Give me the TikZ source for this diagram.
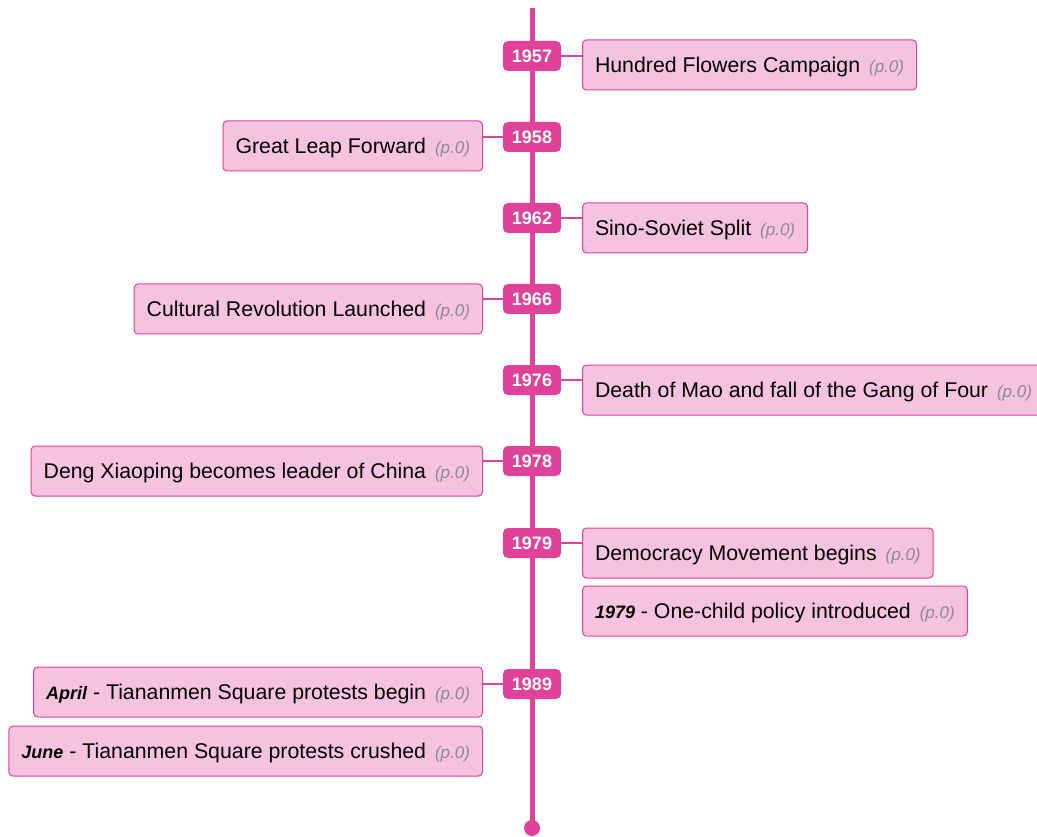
\documentclass[tikz,border=0pt]{standalone}
\usepackage{fontspec}
\setmainfont{Liberation Sans}
\definecolor{tlpink}{HTML}{E0429A}
\definecolor{boxfill}{HTML}{F5C3E0}
\definecolor{pgray}{HTML}{8C8C8C}
\newcommand{\pref}{\ \hspace{3pt}{\fontsize{17}{19}\selectfont\itshape\color{pgray}(p.0)}}
\newcommand{\lead}[1]{{\fontsize{18}{20}\selectfont\bfseries\itshape #1}}
\begin{document}
\begin{tikzpicture}[x=1pt,y=-1pt,
  yearbadge/.style={fill=tlpink, text=white, rounded corners=5pt, minimum width=58pt, minimum height=30pt, inner sep=0pt, font=\fontsize{18}{20}\selectfont\bfseries},
  eventbox/.style={draw=tlpink, line width=1pt, fill=boxfill, rounded corners=4pt, minimum height=50pt, inner xsep=12.5pt, inner ysep=0pt, text height=17pt, text depth=2pt, font=\fontsize{21.3}{24}\selectfont, text=black},
  conn/.style={tlpink, line width=1.5pt}]
\useasboundingbox (0,0) rectangle (1037,837);
\coordinate (top) at (532,8);
\coordinate (bot) at (532,828);
\draw[tlpink, line width=5pt] (top) -- (bot);
\fill[tlpink] (bot) circle (8pt);
% badges
\node[yearbadge] (b1957) at (532,56) {1957};
\node[yearbadge] (b1958) at (532,137) {1958};
\node[yearbadge] (b1962) at (532,218) {1962};
\node[yearbadge] (b1966) at (532,299) {1966};
\node[yearbadge] (b1976) at (532,380) {1976};
\node[yearbadge] (b1978) at (532,461) {1978};
\node[yearbadge] (b1979) at (532,543) {1979};
\node[yearbadge] (b1989) at (532,684) {1989};
% events
\node[eventbox, anchor=west] (e1957) at (582,65) {Hundred Flowers Campaign\pref};
\node[eventbox, anchor=east] (e1958) at (483,146) {Great Leap Forward\pref};
\node[eventbox, anchor=west] (e1962) at (582,228) {Sino-Soviet Split\pref};
\node[eventbox, anchor=east] (e1966) at (483,309) {Cultural Revolution Launched\pref};
\node[eventbox, anchor=west] (e1976) at (582,390) {Death of Mao and fall of the Gang of Four\pref};
\node[eventbox, anchor=east] (e1978) at (483,471) {Deng Xiaoping becomes leader of China\pref};
\node[eventbox, anchor=west] (e1979a) at (582,553) {Democracy Movement begins\pref};
\node[eventbox, anchor=west] (e1979b) at (582,611) {\lead{1979} - One-child policy introduced\pref};
\node[eventbox, anchor=east] (e1989a) at (483,692) {\lead{April} - Tiananmen Square protests begin\pref};
\node[eventbox, anchor=east] (e1989b) at (483,751) {\lead{June} - Tiananmen Square protests crushed\pref};
% connectors
\draw[conn] (b1957.east) -- (b1957.east -| e1957.west);
\draw[conn] (b1958.west) -- (b1958.west -| e1958.east);
\draw[conn] (b1962.east) -- (b1962.east -| e1962.west);
\draw[conn] (b1966.west) -- (b1966.west -| e1966.east);
\draw[conn] (b1976.east) -- (b1976.east -| e1976.west);
\draw[conn] (b1978.west) -- (b1978.west -| e1978.east);
\draw[conn] (b1979.east) -- (b1979.east -| e1979a.west);
\draw[conn] (b1989.west) -- (b1989.west -| e1989a.east);
\end{tikzpicture}
\end{document}
